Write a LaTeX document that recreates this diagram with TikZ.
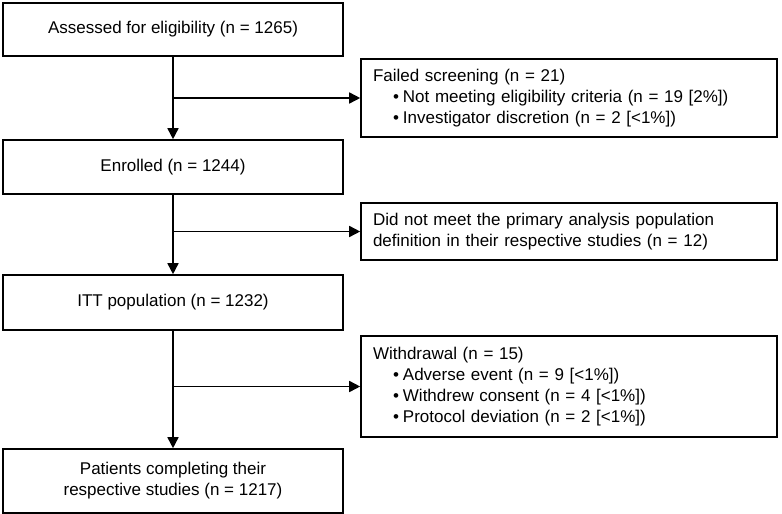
\documentclass[tikz,border=0pt]{standalone}
\usepackage{fontspec}
\setmainfont{Liberation Sans}
\usetikzlibrary{arrows.meta}
\begin{document}
\begin{tikzpicture}[x=1pt,y=-1pt,
  lbox/.style={draw,line width=1.6pt,minimum width=340pt,align=center,inner sep=0pt,font=\fontsize{17}{21}\selectfont},
  rbox/.style={draw,line width=1.6pt,minimum width=416pt,text width=392pt,align=left,inner sep=0pt,font=\fontsize{17}{21}\selectfont},
  flow/.style={line width=1.6pt,-{Triangle[length=11pt,width=11pt]}}]
\useasboundingbox (0,0) rectangle (782,514);
\newcommand{\bul}{\hspace*{20pt}•\hspace*{4pt}}
\node[lbox,minimum height=53pt] (b1) at (173,29.5) {Assessed for eligibility (n = 1265)};
\node[lbox,minimum height=54pt] (b2) at (173,167) {Enrolled (n = 1244)};
\node[lbox,minimum height=55pt] (b3) at (173,302.5) {ITT population (n = 1232)};
\node[lbox,minimum height=64pt] (b4) at (173,481) {Patients completing their\\respective studies (n = 1217)};
\node[rbox,minimum height=78pt] (ra) at (569,98) {Failed screening (n = 21)\\\bul Not meeting eligibility criteria (n = 19 [2\%])\\\bul Investigator discretion (n = 2 [<1\%])};
\node[rbox,minimum height=57pt] (rb) at (569,231.5) {Did not meet the primary analysis population\\definition in their respective studies (n = 12)};
\node[rbox,minimum height=101pt] (rc) at (569,386.5) {Withdrawal (n = 15)\\\bul Adverse event (n = 9 [<1\%])\\\bul Withdrew consent (n = 4 [<1\%])\\\bul Protocol deviation (n = 2 [<1\%])};
\coordinate (ja) at (b1.south |- ra.west);
\coordinate (jb) at (b2.south |- rb.west);
\coordinate (jc) at (b3.south |- rc.west);
\draw[flow] (b1.south) -- (b2.north);
\draw[flow] (b2.south) -- (b3.north);
\draw[flow] (b3.south) -- (b4.north);
\draw[flow] (ja) -- (ra.west);
\draw[flow] (jb) -- (rb.west);
\draw[flow] (jc) -- (rc.west);
\end{tikzpicture}
\end{document}
